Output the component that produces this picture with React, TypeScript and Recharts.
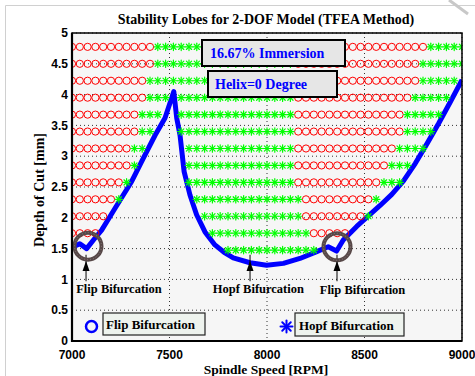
import React from 'react';
import {
  ComposedChart,
  XAxis,
  YAxis,
  CartesianGrid,
  Scatter,
  Line,
  ReferenceLine,
} from 'recharts';

// Spindle speed sampling of the stability map (RPM)
const SPEED_STEP = 40;

// Depth of cut for each simulated row (mm), top to bottom
const rowDepths = [4.775, 4.5, 4.225, 3.95, 3.675, 3.4, 3.125, 2.85, 2.575, 2.3, 2.025, 1.75, 1.475];

// Speed runs [from, to] where the row is unstable by flip (period doubling)
const flipRuns: number[][][] = [
  [[7000, 7400], [8160, 8800]],
  [[7000, 7400], [8160, 8760]],
  [[7000, 7360], [8160, 8760]],
  [[7000, 7360], [8160, 8720]],
  [[7000, 7320], [8160, 8680]],
  [[7000, 7320], [8160, 8680]],
  [[7000, 7280], [8160, 8640]],
  [[7000, 7280], [8160, 8600]],
  [[7000, 7240], [8160, 8560]],
  [[7000, 7200], [8200, 8520]],
  [[7000, 7160], [8200, 8480]],
  [[7000, 7120], [8240, 8400]],
  [],
];

// Speed runs [from, to] where the row is unstable by Hopf (secondary Hopf)
const hopfRuns: number[][][] = [
  [[7440, 8120], [8840, 9000]],
  [[7440, 8120], [8800, 9000]],
  [[7400, 8120], [8800, 8960]],
  [[7400, 7480], [7560, 8120], [8760, 8920]],
  [[7360, 7440], [7560, 8120], [8720, 8880]],
  [[7360, 7400], [7560, 8120], [8720, 8840]],
  [[7320, 7360], [7600, 8120], [8680, 8800]],
  [[7320, 7320], [7600, 8120], [8640, 8720]],
  [[7280, 7280], [7600, 8120], [8600, 8680]],
  [[7240, 7240], [7640, 8160], [8560, 8560]],
  [[7680, 8160], [8520, 8520]],
  [[7720, 8200]],
  [[7800, 8240]],
];

// Stability lobe boundary
const lobeSpeed = [
  7015, 7040, 7075, 7110, 7152, 7220, 7306, 7366, 7426, 7477, 7522, 7537, 7554, 7575, 7605, 7639, 7682,
  7733, 7780, 7827, 7913, 7998, 8084, 8169, 8255, 8314, 8357, 8391, 8460, 8520, 8580, 8640, 8700, 8760,
  8820, 8880, 8940, 9000,
];
const lobeDepth = [
  1.54, 1.58, 1.5, 1.64, 1.8, 2.15, 2.59, 2.97, 3.34, 3.62, 4.05, 3.62, 3.34, 2.75, 2.37, 2.05, 1.77,
  1.56, 1.44, 1.35, 1.27, 1.23, 1.26, 1.34, 1.45, 1.53, 1.46, 1.64, 1.86, 2.03, 2.2, 2.38, 2.6, 2.88,
  3.2, 3.53, 3.88, 4.24,
];

// Highlighted bifurcation spots and their callouts
const ringSpeed = [7082, 8359];
const ringDepth = [1.54, 1.53];
const arrowSpeed = [7072, 7913, 8359];
const arrowTail = 0.97;
const arrowTip = 1.3;
const calloutSpeed = [7241, 7956, 8490];
const calloutDepth = [0.78, 0.78, 0.76];
const calloutText = ['Flip Bifurcation', 'Hopf Bifurcation', 'Flip Bifurcation'];

const xTicks = [7000, 7500, 8000, 8500, 9000];
const yTicks = [0, 0.5, 1, 1.5, 2, 2.5, 3, 3.5, 4, 4.5, 5];

const expandRuns = (runs: number[][][]) => {
  const pts: { rpm: number; depth: number }[] = [];
  runs.forEach((row, i) => {
    row.forEach(([a, b]) => {
      for (let s = a; s <= b; s += SPEED_STEP) pts.push({ rpm: s, depth: rowDepths[i] });
    });
  });
  return pts;
};

const flipPoints = expandRuns(flipRuns);
const hopfPoints = expandRuns(hopfRuns);
const lobe = lobeSpeed.map((rpm, i) => ({ rpm, depth: lobeDepth[i] }));
const rings = ringSpeed.map((rpm, i) => ({ rpm, depth: ringDepth[i] }));
const tips = arrowSpeed.map((rpm) => ({ rpm, depth: arrowTip }));
const callouts = calloutSpeed.map((rpm, i) => ({ rpm, depth: calloutDepth[i], text: calloutText[i] }));

const SERIF = '"Liberation Serif", "Times New Roman", serif';
const SANS = '"Liberation Sans", Arial, sans-serif';

const FlipMark = (p: any) => (
  <circle cx={p.cx} cy={p.cy} r={3.6} fill="none" stroke="#ff0000" strokeWidth={1} />
);

const Asterisk = ({ cx, cy, s, color, w }: { cx: number; cy: number; s: number; color: string; w: number }) => {
  const d = s * 0.707;
  return (
    <g stroke={color} strokeWidth={w} strokeLinecap="round">
      <line x1={cx - s} y1={cy} x2={cx + s} y2={cy} />
      <line x1={cx} y1={cy - s} x2={cx} y2={cy + s} />
      <line x1={cx - d} y1={cy - d} x2={cx + d} y2={cy + d} />
      <line x1={cx - d} y1={cy + d} x2={cx + d} y2={cy - d} />
    </g>
  );
};

const HopfMark = (p: any) => <Asterisk cx={p.cx} cy={p.cy} s={3.7} color="#00ff00" w={1.2} />;

const Ring = (p: any) => (
  <g>
    <circle cx={p.cx} cy={p.cy} r={13.5} fill="none" stroke="#574848" strokeWidth={4} />
    <circle cx={p.cx} cy={p.cy} r={13.5} fill="none" stroke="#8a7c7c" strokeWidth={1} strokeDasharray="1 2" />
  </g>
);

const ArrowTip = (p: any) => (
  <polygon points={`${p.cx},${p.cy} ${p.cx - 3.5},${p.cy + 10} ${p.cx + 3.5},${p.cy + 10}`} fill="#000" />
);

const Callout = (p: any) => (
  <text x={p.cx} y={p.cy} textAnchor="middle" fontFamily={SERIF} fontWeight={700} fontSize={12.5} fill="#000">
    {p.payload.text}
  </text>
);

export default function App() {
  return (
    <div style={{ position: 'absolute', left: 0, top: 0, width: 475, height: 376, background: '#fff' }}>
      <ComposedChart
        width={475}
        height={376}
        margin={{ top: 33, right: 13, bottom: 0, left: 0 }}
      >
        <CartesianGrid
          fill="#f6f6f6"
          stroke="#000"
          strokeDasharray="1 3"
          strokeWidth={0.8}
        />
        <XAxis
          type="number"
          dataKey="rpm"
          domain={[7000, 9000]}
          ticks={xTicks}
          allowDataOverflow
          height={35}
          axisLine={false}
          tickLine={false}
          tickSize={0}
          tickMargin={9.5}
          tick={{ fill: '#000', fontSize: 12, fontWeight: 700, fontFamily: SANS }}
        />
        <YAxis
          type="number"
          dataKey="depth"
          domain={[0, 5]}
          ticks={yTicks}
          allowDataOverflow
          width={72}
          axisLine={false}
          tickLine={false}
          tickSize={0}
          tickMargin={4}
          tick={{ fill: '#000', fontSize: 12, fontWeight: 700, fontFamily: SANS }}
        />
        <Scatter data={flipPoints} shape={FlipMark} isAnimationActive={false} />
        <Scatter data={hopfPoints} shape={HopfMark} isAnimationActive={false} />
        <Line
          data={lobe}
          dataKey="depth"
          type="linear"
          stroke="#0000ff"
          strokeWidth={5}
          strokeLinejoin="round"
          dot={false}
          isAnimationActive={false}
        />
        <Scatter data={rings} shape={Ring} isAnimationActive={false} />
        {arrowSpeed.map((s) => (
          <ReferenceLine
            key={s}
            segment={[{ x: s, y: arrowTail }, { x: s, y: arrowTip + 0.1 }]}
            stroke="#000"
            strokeWidth={1}
          />
        ))}
        <Scatter data={tips} shape={ArrowTip} isAnimationActive={false} />
        <Scatter data={callouts} shape={Callout} isAnimationActive={false} />
      </ComposedChart>

      <svg
        width={475}
        height={376}
        style={{ position: 'absolute', left: 0, top: 0, pointerEvents: 'none' }}
      >
        <line x1={5.5} y1={5.5} x2={475} y2={5.5} stroke="#d0d0d0" />
        <line x1={5.5} y1={5.5} x2={5.5} y2={376} stroke="#d0d0d0" />
        <line x1={449} y1={0} x2={468} y2={14} stroke="#c8c8c8" strokeWidth={3} />

        <rect x={72} y={33} width={390} height={308} fill="none" stroke="#000" strokeWidth={1.5} />
        <line x1={72} y1={33} x2={72} y2={342} stroke="#000" strokeWidth={2.2} />
        <line x1={71} y1={341} x2={462} y2={341} stroke="#000" strokeWidth={2.2} />

        <text x={266} y={24} textAnchor="middle" fontFamily={SERIF} fontWeight={700} fontSize={14}>
          Stability Lobes for 2-DOF Model (TFEA Method)
        </text>
        <text x={266} y={374} textAnchor="middle" fontFamily={SERIF} fontWeight={700} fontSize={13.5}>
          Spindle Speed [RPM]
        </text>
        <text
          transform="translate(44,190) rotate(-90)"
          textAnchor="middle"
          fontFamily={SERIF}
          fontWeight={700}
          fontSize={14}
        >
          Depth of Cut [mm]
        </text>

        <rect x={202} y={40} width={143} height={26} fill="#e6e6e6" stroke="#000" strokeWidth={2} />
        <text x={210} y={58} fontFamily={SERIF} fontWeight={700} fontSize={14} fill="#0000ff">
          16.67% Immersion
        </text>
        <rect x={208} y={71} width={129} height={26} fill="#e6e6e6" stroke="#000" strokeWidth={2} />
        <text x={215} y={89} fontFamily={SERIF} fontWeight={700} fontSize={14} fill="#0000ff">
          Helix=0 Degree
        </text>

        <circle cx={91.5} cy={326.5} r={5.5} fill="none" stroke="#0000ff" strokeWidth={2.5} />
        <rect x={103} y={313} width={102} height={22} fill="#eef3ee" stroke="#222" strokeWidth={1.2} />
        <text x={106} y={329} fontFamily={SERIF} fontWeight={700} fontSize={13}>
          Flip Bifurcation
        </text>
        <Asterisk cx={286.5} cy={326.5} s={6} color="#0000ff" w={2} />
        <rect x={295} y={313} width={109} height={23} fill="#eef3ee" stroke="#222" strokeWidth={1.2} />
        <text x={299} y={330} fontFamily={SERIF} fontWeight={700} fontSize={13}>
          Hopf Bifurcation
        </text>
      </svg>
    </div>
  );
}
